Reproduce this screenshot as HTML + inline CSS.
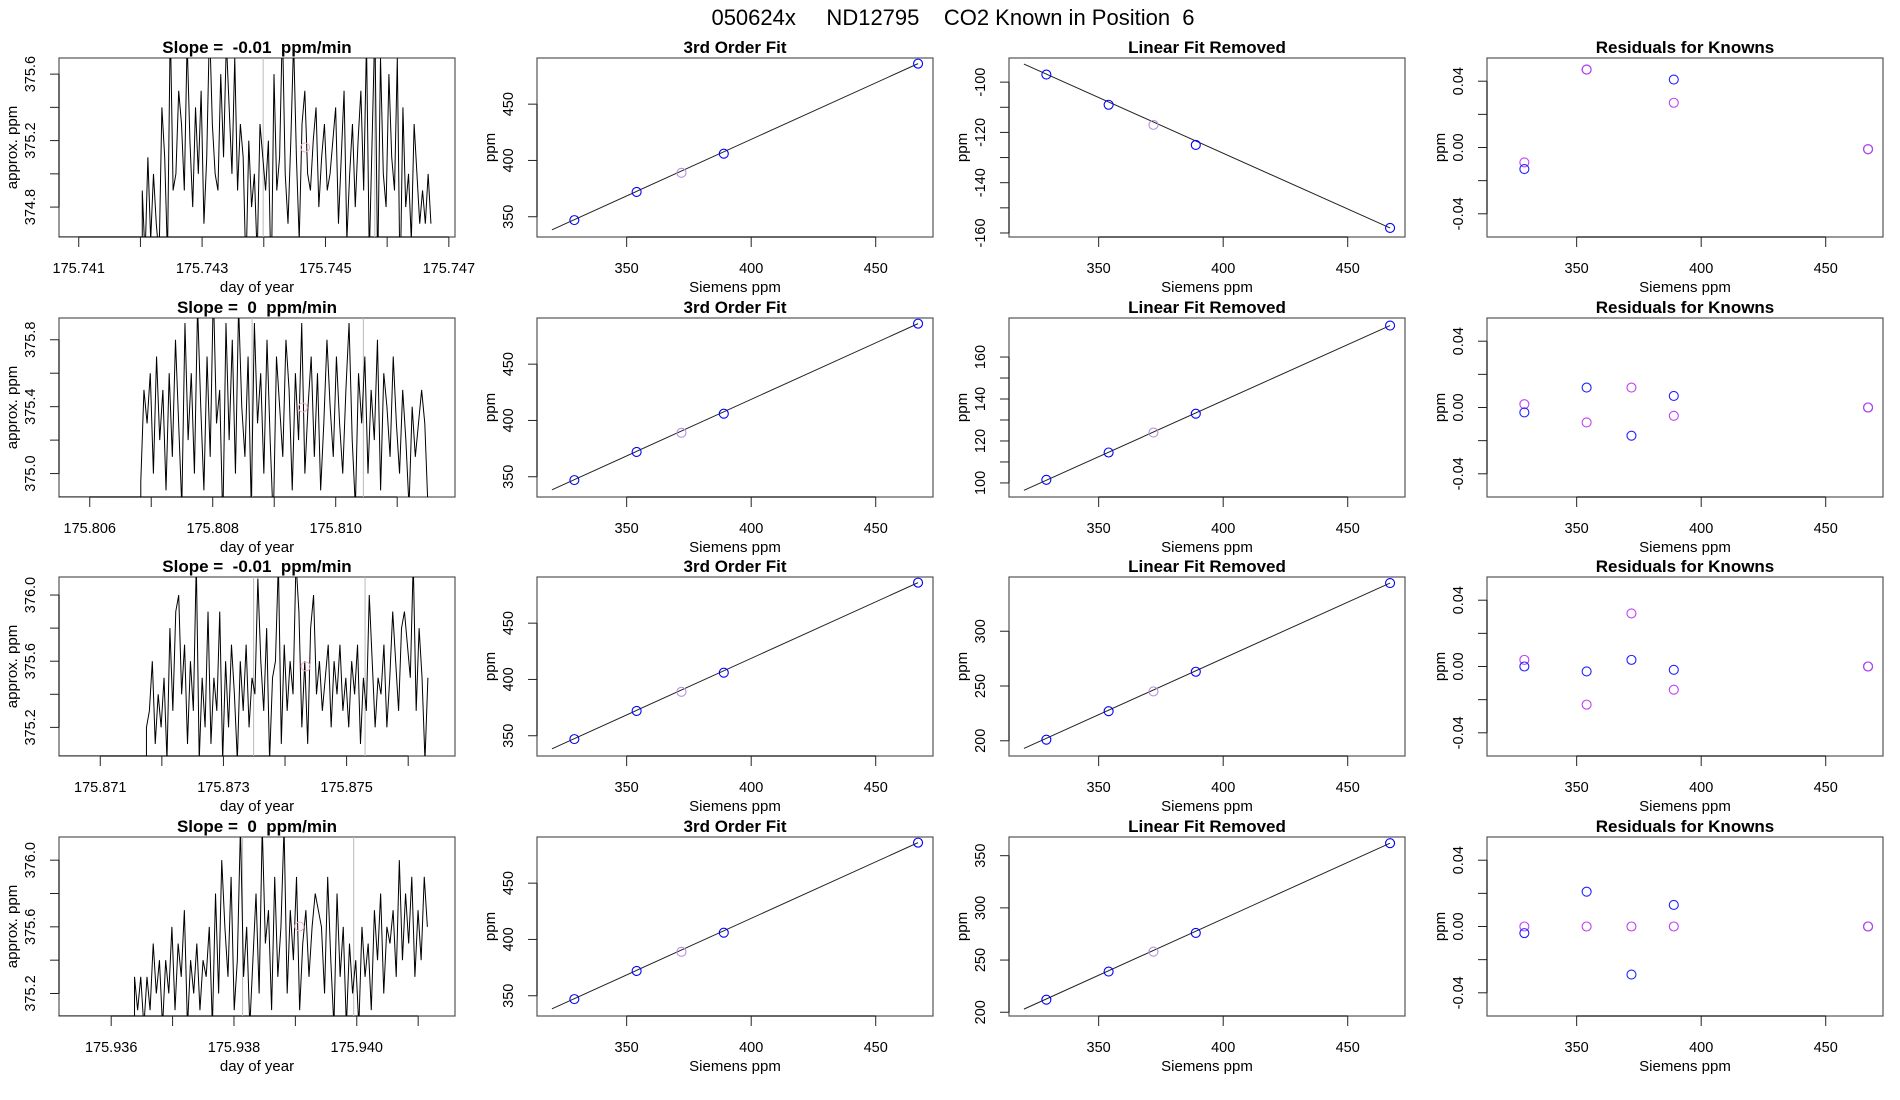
<!DOCTYPE html>
<html><head><meta charset="utf-8"><style>
html,body{margin:0;padding:0;background:#fff;}
svg{display:block;font-family:"Liberation Sans",sans-serif;}
</style></head><body>
<svg id="fig" width="1900" height="1100" xmlns="http://www.w3.org/2000/svg">
<text x="953" y="25" text-anchor="middle" font-size="22" xml:space="preserve" style="white-space:pre">050624x     ND12795    CO2 Known in Position  6</text>
</svg>
<script>
// ---- data ----
const siemens = [329, 354, 372, 389, 467];
const fitPpm = [347, 372, 389, 406, 486];
const lineX = [320, 467];
const fitLineY = [338.4, 486];
const linRow1 = [-97, -109, -117, -125, -158];
const linRow2 = [101.5, 114.5, 124, 133, 175];
const linRow3 = [201, 227, 245, 263, 344];
const linRow4 = [212, 239, 258, 276, 362];
const linLineRow1 = [-92.8, -158];
const linLineRow2 = [96.5, 175];
const linLineRow3 = [193, 344];
const linLineRow4 = [203, 362];
const resX = [329, 329, 354, 354, 372, 372, 389, 389, 467, 467];
const resColorKey = ['v','b','b','v','b','v','b','v','b','v'];
const resRow1 = [-0.009, -0.013, 0.047, 0.047, null, null, 0.041, 0.027, -0.001, -0.001];
const resRow2 = [0.002, -0.003, 0.012, -0.009, -0.017, 0.012, 0.007, -0.005, 0, 0];
const resRow3 = [0.004, 0.000, -0.003, -0.023, 0.004, 0.032, -0.002, -0.014, 0, 0];
const resRow4 = [0, -0.004, 0.021, 0, -0.029, 0, 0.013, 0, 0, 0];
const tsStart = [175.74203, 175.80683, 175.87175, 175.93638];
const tsEnd = [175.74671, 175.8115, 175.87632, 175.94115];
const ts1 = [374.9,374.5,375.1,374.6,375.0,374.7,374.5,375.4,375.1,374.5,375.9,374.9,375.0,375.5,375.3,374.9,375.8,375.2,374.8,375.4,375.0,375.5,374.7,375.1,375.9,375.3,375.0,374.9,375.6,375.1,375.8,375.4,375.0,375.7,374.9,375.3,375.1,374.4,375.2,374.8,375.0,374.5,375.3,375.1,374.9,375.2,374.3,375.6,374.9,375.1,375.9,375.0,374.7,375.2,375.8,375.1,374.6,375.3,375.5,375.0,374.9,375.2,375.4,374.8,375.1,375.3,374.9,375.0,375.2,375.4,374.7,375.1,375.5,374.6,375.0,375.3,374.8,375.2,375.5,374.9,375.8,374.5,375.2,375.9,374.4,375.7,375.0,374.8,375.6,375.1,374.9,375.7,374.3,375.4,374.8,375.0,374.6,375.3,375.0,374.7,374.9,374.7,375.0,374.7];
const ts2 = [374.95,375.5,375.3,375.6,375.0,375.7,375.2,375.5,374.9,375.6,375.1,375.8,375.3,374.8,375.9,375.2,375.6,375.0,376.0,375.4,374.9,375.7,375.1,376.1,375.3,375.5,374.7,375.9,375.2,375.8,375.0,376.0,375.4,375.1,375.7,374.8,375.9,375.3,375.6,375.0,375.8,375.2,374.7,375.7,375.4,375.1,375.8,375.5,374.9,375.6,375.2,375.9,375.0,375.4,375.7,375.1,375.6,374.9,375.3,375.8,375.4,375.1,375.7,375.3,375.0,375.5,375.9,375.2,374.8,375.6,375.3,375.7,375.0,375.5,375.2,375.8,374.9,375.6,375.4,375.1,375.7,375.3,375.0,375.5,375.2,374.8,375.4,375.1,375.3,375.5,375.3,374.8];
const ts3 = [375.2,375.3,375.6,375.1,375.4,375.2,375.5,375.0,375.8,375.3,375.9,376.0,375.4,375.7,375.1,375.6,375.3,376.2,375.0,375.5,375.2,375.9,375.1,375.5,375.3,375.9,375.0,375.6,375.2,375.7,375.4,375.0,375.6,375.3,375.7,375.2,375.5,375.4,376.1,375.6,375.3,375.8,375.0,375.5,375.6,376.2,375.1,375.7,375.3,375.6,375.4,376.2,375.9,375.2,375.6,375.1,375.8,376.0,375.4,375.6,375.3,375.5,375.7,375.2,375.6,375.4,375.7,375.3,375.5,375.2,375.6,375.4,375.7,375.1,375.5,375.3,376.0,375.6,375.2,375.5,375.4,375.7,375.2,375.5,375.9,375.6,375.3,375.8,375.9,375.7,375.5,376.2,375.3,375.8,375.5,375.0,375.5];
const ts4 = [375.3,375.1,375.3,375.0,375.3,375.1,375.5,375.2,375.4,375.0,375.4,375.2,375.6,375.1,375.5,375.3,375.7,375.0,375.4,375.2,375.5,375.1,375.4,375.3,375.6,375.0,375.8,375.2,376.0,375.6,375.3,375.9,375.1,375.4,376.2,375.3,375.6,375.0,375.4,375.8,375.2,376.2,375.5,375.7,375.1,375.9,375.3,375.6,376.2,375.2,375.7,375.4,375.9,375.1,375.5,375.7,375.3,375.6,375.8,375.7,375.6,375.2,375.9,375.4,375.0,375.8,375.3,375.6,375.0,375.5,375.2,375.4,375.0,375.6,375.3,375.5,375.1,375.7,375.4,375.8,375.2,375.6,375.5,375.7,375.3,376.0,375.4,375.8,375.5,375.9,375.3,375.7,375.4,375.9,375.6];
const slopeLabels = ['-0.01', '0', '-0.01', '0'];
const tsXDom = [[175.74068,175.7471],[175.8055,175.81194],[175.87033,175.87676],[175.93515,175.9416]];
const tsYDom = [[374.62,375.697],[374.86,375.93],[375.027,376.109],[375.065,376.139]];
const tsXTicks = [[175.741,175.742,175.743,175.744,175.745,175.746,175.747],[175.806,175.807,175.808,175.809,175.810,175.811],[175.871,175.872,175.873,175.874,175.875,175.876],[175.936,175.937,175.938,175.939,175.940,175.941]];
const tsXLabels = [['175.741','','175.743','','175.745','','175.747'],['175.806','','175.808','','175.810',''],['175.871','','175.873','','175.875',''],['175.936','','175.938','','175.940','']];
const tsYTicks = [[374.8,375.0,375.2,375.4,375.6],[375.0,375.2,375.4,375.6,375.8],[375.2,375.4,375.6,375.8,376.0],[375.2,375.4,375.6,375.8,376.0]];
const tsYLabels = [['374.8','','375.2','','375.6'],['375.0','','375.4','','375.8'],['375.2','','375.6','','376.0'],['375.2','','375.6','','376.0']];
const tsGrey = [[175.74399,175.7458],[175.80864,175.81045],[175.87349,175.8753],[175.93814,175.93995]];
const linYDom = [[-161.6,-90.4],[93.3,178.6],[186.1,349.5],[196.4,367.9]];
const linYTicks = [[-160,-150,-140,-130,-120,-110,-100],[100,110,120,130,140,150,160],[200,250,300],[200,250,300,350]];
const linYLabels = [['-160','','-140','','-120','','-100'],['100','','120','','140','','160'],['200','250','300'],['200','250','300','350']];
const fitYDom = [332, 491];
const sXDom = [314, 473];
const sXTicks = [350, 400, 450];
const resYDom = [-0.054, 0.054];
const resYTicks = [-0.04, -0.02, 0, 0.02, 0.04];
const resYLabels = ['-0.04', '', '0.00', '', '0.04'];

// ---- layout ----
const svg = document.getElementById('fig');
const NS = 'http://www.w3.org/2000/svg';
const colL = [59, 537, 1009, 1487], rowT = [58, 318, 577, 837], W = 396, H = 179;
function mk(tag, attrs, parent) { const e = document.createElementNS(NS, tag); for (const k in attrs) e.setAttribute(k, attrs[k]); (parent || svg).appendChild(e); return e; }
function lin(d, r) { return v => r[0] + (v - d[0]) / (d[1] - d[0]) * (r[1] - r[0]); }

function panel(ci, ri, name, title, xd, yd, xt, xl, yt, yl, xlab, ylab) {
  const g = mk('g', {});
  
  
  const L = colL[ci], T = rowT[ri];
  const sx = lin(xd, [L, L + W]), sy = lin(yd, [T + H, T]);
  const cid = 'clip' + ci + ri;
  const cp = mk('clipPath', { id: cid }, g); mk('rect', { x: L, y: T, width: W, height: H }, cp);
  const t = mk('text', { x: L + W / 2, y: T - 5, 'text-anchor': 'middle', 'font-size': 17, 'font-weight': 'bold', 'xml:space': 'preserve', style: 'white-space:pre' }, g);
  t.textContent = title;
  
  
  const box = mk('rect', { x: L, y: T, width: W, height: H, fill: 'none', stroke: '#555', 'stroke-width': 1.2 }, g);
  
  
  const xa = mk('g', {}, g);
  
  
  mk('line', { x1: sx(xt[0]), x2: sx(xt[xt.length - 1]), y1: T + H, y2: T + H, stroke: '#222', 'stroke-width': 1.2 }, xa);
  xt.forEach((v, i) => {
    mk('line', { x1: sx(v), x2: sx(v), y1: T + H, y2: T + H + 10, stroke: '#222' }, xa);
    if (xl[i]) { const tx = mk('text', { x: sx(v), y: T + H + 36, 'text-anchor': 'middle', 'font-size': 14.5 }, xa); tx.textContent = xl[i]; }
  });
  const xt2 = mk('text', { x: L + W / 2, y: T + H + 55, 'text-anchor': 'middle', 'font-size': 15 }, g);
  xt2.textContent = xlab;
  
  
  const ya = mk('g', {}, g);
  
  
  mk('line', { x1: L, x2: L, y1: sy(yt[0]), y2: sy(yt[yt.length - 1]), stroke: '#222', 'stroke-width': 1.2 }, ya);
  yt.forEach((v, i) => {
    mk('line', { x1: L - 9, x2: L, y1: sy(v), y2: sy(v), stroke: '#222' }, ya);
    if (yl[i]) { const tx = mk('text', { x: L - 24, y: sy(v), 'text-anchor': 'middle', 'font-size': 14.5, transform: `rotate(-90 ${L - 24} ${sy(v)})` }, ya); tx.textContent = yl[i]; }
  });
  const yt2 = mk('text', { x: L - 42, y: T + H / 2, 'text-anchor': 'middle', 'font-size': 15, transform: `rotate(-90 ${L - 42} ${T + H / 2})` }, g);
  yt2.textContent = ylab;
  
  
  const plot = mk('g', { 'clip-path': `url(#${cid})` }, g);
  return { sx, sy, plot };
}

function circ(p, x, y, col, nm) {
  const c = mk('circle', { cx: x, cy: y, r: 4.5, fill: 'none', stroke: col, 'stroke-width': 1.1 }, p);
  
  
}

const tsData = [ts1, ts2, ts3, ts4];
const linData = [linRow1, linRow2, linRow3, linRow4];
const linLines = [linLineRow1, linLineRow2, linLineRow3, linLineRow4];
const resData = [resRow1, resRow2, resRow3, resRow4];

for (let r = 0; r < 4; r++) {
  let P = panel(0, r, 'time-series-panel', `Slope =  ${slopeLabels[r]}  ppm/min`, tsXDom[r], tsYDom[r], tsXTicks[r], tsXLabels[r], tsYTicks[r], tsYLabels[r], 'day of year', 'approx. ppm');
  tsGrey[r].forEach(tv => {
    const gl = mk('line', { x1: P.sx(tv), x2: P.sx(tv), y1: rowT[r], y2: rowT[r] + H, stroke: '#bbb', 'stroke-width': 1 }, P.plot);
    
    
  });
  const vals = tsData[r];
  const step = (tsEnd[r] - tsStart[r]) / (vals.length - 1);
  const low = tsYDom[r][0];
  let pts = [[P.sx(tsXDom[r][0]), P.sy(low)], [P.sx(tsStart[r]), P.sy(low)]];
  vals.forEach((v, i) => pts.push([P.sx(tsStart[r] + i * step), P.sy(v)]));
  const pl = mk('polyline', { points: pts.map(p => p.join(',')).join(' '), fill: 'none', stroke: '#000', 'stroke-width': 1 }, P.plot);
  
  
  const mid = (tsYDom[r][0] + tsYDom[r][1]) / 2;
  circ(P.plot, P.sx((tsStart[r] + tsEnd[r]) / 2 + 0.0003), P.sy(mid), '#f4b0c0', 'mean-marker');

  P = panel(1, r, 'fit-panel', '3rd Order Fit', sXDom, fitYDom, sXTicks, ['350', '400', '450'], [350, 400, 450], ['350', '400', '450'], 'Siemens ppm', 'ppm');
  const fl = mk('line', { x1: P.sx(lineX[0]), y1: P.sy(fitLineY[0]), x2: P.sx(lineX[1]), y2: P.sy(fitLineY[1]), stroke: '#222', 'stroke-width': 1 }, P.plot);
  
  
  siemens.forEach((x, i) => circ(P.plot, P.sx(x), P.sy(fitPpm[i]), i === 2 ? '#b890e0' : '#0000ff', 'fit-point'));

  P = panel(2, r, 'linear-removed-panel', 'Linear Fit Removed', sXDom, linYDom[r], sXTicks, ['350', '400', '450'], linYTicks[r], linYLabels[r], 'Siemens ppm', 'ppm');
  const ll = mk('line', { x1: P.sx(lineX[0]), y1: P.sy(linLines[r][0]), x2: P.sx(lineX[1]), y2: P.sy(linLines[r][1]), stroke: '#222', 'stroke-width': 1 }, P.plot);
  
  
  siemens.forEach((x, i) => circ(P.plot, P.sx(x), P.sy(linData[r][i]), i === 2 ? '#b890e0' : '#0000ff', 'linear-point'));

  P = panel(3, r, 'residuals-panel', 'Residuals for Knowns', sXDom, resYDom, sXTicks, ['350', '400', '450'], resYTicks, resYLabels, 'Siemens ppm', 'ppm');
  resX.forEach((x, i) => {
    const v = resData[r][i];
    if (v === null) return;
    circ(P.plot, P.sx(x), P.sy(v), resColorKey[i] === 'b' ? '#2020ff' : '#c040f0', 'residual-point');
  });
}
</script>
</body></html>
